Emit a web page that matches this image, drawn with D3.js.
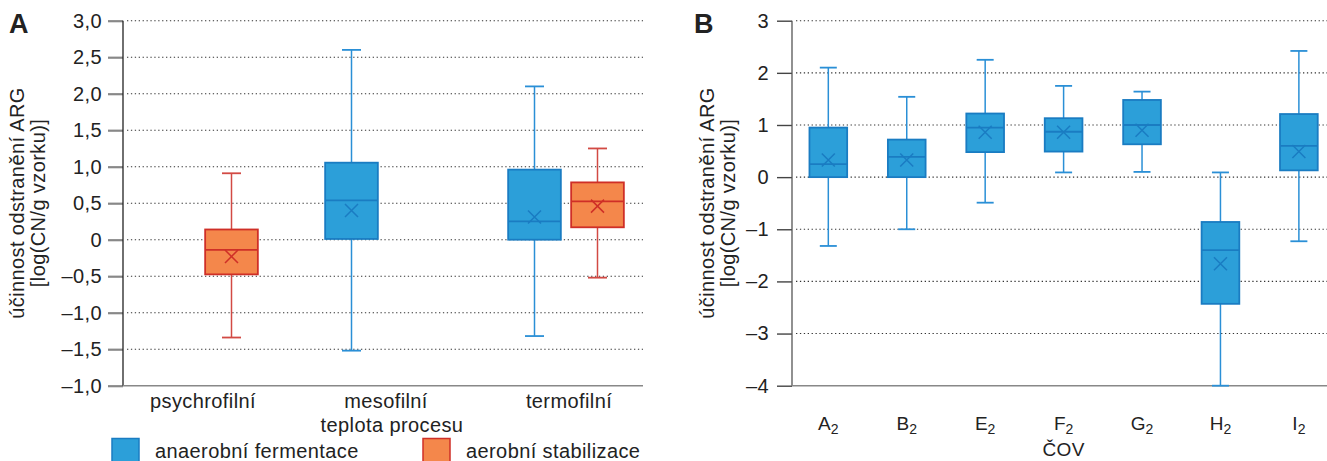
<!DOCTYPE html>
<html>
<head>
<meta charset="utf-8">
<script src="https://cdn.jsdelivr.net/npm/d3@7"></script>
<style>
  body { margin: 0; background: #fff; }
  text { font-family: "Liberation Sans", Arial, sans-serif; fill: #222; }
</style>
</head>
<body>
<div id="chart"></div>
<script>
// panel A: [low whisker, q1, median, q3, high whisker, mean]
var categoriesA = ["psychrofilní", "mesofilní", "termofilní"];
var seriesA = ["anaerobní fermentace", "aerobní stabilizace"];
var anaerobA = [null, [-1.52, 0.01, 0.54, 1.055, 2.60, 0.40], [-1.32, 0.0, 0.25, 0.96, 2.10, 0.31]];
var aerobA = [[-1.34, -0.475, -0.14, 0.14, 0.91, -0.23], null, [-0.52, 0.17, 0.525, 0.785, 1.25, 0.46]];
var yTicksA = [3, 2.5, 2, 1.5, 1, 0.5, 0, -0.5, -1, -1.5, -2];
var yLabelsA = ["3,0", "2,5", "2,0", "1,5", "1,0", "0,5", "0", "–0,5", "–1,0", "–1,5", "–1,0"];

// panel B
var categoriesB = ["A", "B", "E", "F", "G", "H", "I"];
var statsB = [
  [-1.32, 0.0, 0.25, 0.95, 2.10, 0.33],
  [-1.0, 0.0, 0.39, 0.72, 1.54, 0.33],
  [-0.49, 0.48, 0.95, 1.22, 2.25, 0.86],
  [0.09, 0.49, 0.87, 1.13, 1.75, 0.86],
  [0.10, 0.63, 1.0, 1.48, 1.64, 0.90],
  [-4.0, -2.43, -1.40, -0.86, 0.09, -1.66],
  [-1.23, 0.13, 0.60, 1.21, 2.42, 0.49]
];
var yTicksB = [3, 2, 1, 0, -1, -2, -3, -4];
var yLabelsB = ["3", "2", "1", "0", "–1", "–2", "–3", "–4"];

var colors = {
  "anaerobní fermentace": { fill: "#2c9fd9", stroke: "#1a7cc2", whisker: "#2a8fd6" },
  "aerobní stabilizace": { fill: "#f4874b", stroke: "#cf2f27", whisker: "#d24a44" }
};

var width = 1327, height = 461;
var svg = d3.select("#chart").append("svg")
  .attr("width", width)
  .attr("height", height);

var fs = 20, ls = 0.4;

function drawBox(g, cx, s, y, boxW, capW, c) {
  g.append("line")
    .attr("x1", cx).attr("x2", cx)
    .attr("y1", y(s[0])).attr("y2", y(s[4]))
    .attr("stroke", c.whisker).attr("stroke-width", 1.5);
  [s[0], s[4]].forEach(function(v) {
    g.append("line")
      .attr("x1", cx - capW / 2).attr("x2", cx + capW / 2)
      .attr("y1", y(v)).attr("y2", y(v))
      .attr("stroke", c.whisker).attr("stroke-width", 1.8);
  });
  g.append("rect")
    .attr("x", cx - boxW / 2).attr("width", boxW)
    .attr("y", y(s[3])).attr("height", y(s[1]) - y(s[3]))
    .attr("fill", c.fill).attr("stroke", c.stroke).attr("stroke-width", 1.8);
  g.append("line")
    .attr("x1", cx - boxW / 2).attr("x2", cx + boxW / 2)
    .attr("y1", y(s[2])).attr("y2", y(s[2]))
    .attr("stroke", c.stroke).attr("stroke-width", 1.8);
  var m = 6.5, my = y(s[5]);
  g.append("path")
    .attr("d", "M" + (cx - m) + "," + (my - m) + "L" + (cx + m) + "," + (my + m) +
      "M" + (cx + m) + "," + (my - m) + "L" + (cx - m) + "," + (my + m))
    .attr("stroke", c.stroke).attr("stroke-width", 1.5).attr("fill", "none");
}

function yAxisLabel(x, yc) {
  var t = svg.append("text")
    .attr("transform", "translate(" + x + "," + yc + ") rotate(-90)")
    .attr("text-anchor", "middle")
    .attr("font-size", fs).attr("letter-spacing", ls);
  t.append("tspan").attr("x", 0).attr("dy", 0).text("účinnost odstranění ARG");
  t.append("tspan").attr("x", 0).attr("dy", 21).text("[log(CN/g vzorku)]");
}

function grid(left, right, y, ticks) {
  svg.append("g").selectAll("line")
    .data(ticks.slice(0, -1))
    .join("line")
    .attr("x1", left + 4).attr("x2", right)
    .attr("y1", d => y(d)).attr("y2", d => y(d))
    .attr("stroke", "#333").attr("stroke-width", 1.1)
    .attr("stroke-dasharray", "1.3,2.6");
}

// ---------- panel A ----------
var plotTop = 20.7, plotBottom = 385.7;
var leftA = 123, rightA = 643;
var yA = d3.scaleLinear().domain([-2, 3]).range([plotBottom, plotTop]);
var xA = d3.scaleBand().domain(categoriesA).range([108.5, 657.5]);
var xSub = d3.scaleBand().domain(seriesA).range([-63, 63]);

grid(leftA, rightA, yA, yTicksA);

var axA = svg.append("g")
  .attr("transform", "translate(" + leftA + ",0)")
  .call(d3.axisLeft(yA).tickValues(yTicksA).tickSize(15).tickPadding(6)
    .tickFormat((d, i) => yLabelsA[i]));
axA.select(".domain").remove();
axA.selectAll(".tick line").attr("stroke", "#888").attr("stroke-width", 2.2);
axA.selectAll("text").attr("font-size", fs).attr("letter-spacing", ls)
  .attr("font-family", "Liberation Sans, Arial, sans-serif").attr("fill", "#222");
svg.append("line").attr("x1", leftA).attr("x2", leftA).attr("y1", plotTop).attr("y2", plotBottom)
  .attr("stroke", "#222").attr("stroke-width", 1.3);
svg.append("line").attr("x1", leftA).attr("x2", rightA).attr("y1", plotBottom).attr("y2", plotBottom)
  .attr("stroke", "#888").attr("stroke-width", 1.6);

var boxesA = svg.append("g");
[anaerobA, aerobA].forEach(function(arr, si) {
  arr.forEach(function(s, ci) {
    if (!s) return;
    var cx = xA(categoriesA[ci]) + xA.bandwidth() / 2 + xSub(seriesA[si]) + xSub.bandwidth() / 2;
    drawBox(boxesA, cx, s, yA, 52.7, 19, colors[seriesA[si]]);
  });
});

svg.append("g").selectAll("text")
  .data(categoriesA)
  .join("text")
  .attr("x", d => xA(d) + xA.bandwidth() / 2 + 3)
  .attr("y", 408)
  .attr("text-anchor", "middle")
  .attr("font-size", fs).attr("letter-spacing", ls)
  .text(d => d);
svg.append("text").attr("x", 392).attr("y", 432).attr("text-anchor", "middle")
  .attr("font-size", fs).attr("letter-spacing", ls).text("teplota procesu");

// legend
var legX = [112, 423];
seriesA.forEach(function(s, i) {
  svg.append("rect").attr("x", legX[i]).attr("y", 438.5).attr("width", 27).attr("height", 24)
    .attr("fill", colors[s].fill).attr("stroke", colors[s].stroke).attr("stroke-width", 1.5);
  svg.append("text").attr("x", legX[i] + 43).attr("y", 458)
    .attr("font-size", fs).attr("letter-spacing", ls).text(s);
});

svg.append("text").attr("x", 9).attr("y", 33).attr("font-size", 27)
  .attr("font-weight", "bold").attr("font-family", "Liberation Sans, Arial, sans-serif").text("A");
yAxisLabel(24, 203);

// ---------- panel B ----------
var leftB = 792, rightB = 1327;
var yB = d3.scaleLinear().domain([-4, 3]).range([plotBottom, plotTop]);
var xB = d3.scaleBand().domain(categoriesB).range([789.1, 1338.1]);

grid(leftB, rightB, yB, yTicksB);

var axB = svg.append("g")
  .attr("transform", "translate(" + leftB + ",0)")
  .call(d3.axisLeft(yB).tickValues(yTicksB).tickSize(15).tickPadding(8)
    .tickFormat((d, i) => yLabelsB[i]));
axB.select(".domain").remove();
axB.selectAll(".tick line").attr("stroke", "#444").attr("stroke-width", 1.4);
axB.selectAll("text").attr("font-size", fs).attr("letter-spacing", ls)
  .attr("font-family", "Liberation Sans, Arial, sans-serif").attr("fill", "#222");
svg.append("line").attr("x1", leftB).attr("x2", leftB).attr("y1", plotTop).attr("y2", plotBottom)
  .attr("stroke", "#555").attr("stroke-width", 1.3);
svg.append("line").attr("x1", leftB).attr("x2", rightB).attr("y1", plotBottom).attr("y2", plotBottom)
  .attr("stroke", "#888").attr("stroke-width", 1.6);

var boxesB = svg.append("g");
statsB.forEach(function(s, i) {
  drawBox(boxesB, xB(categoriesB[i]) + xB.bandwidth() / 2, s, yB, 37.7, 17,
    colors["anaerobní fermentace"]);
});

var labB = svg.append("g").selectAll("text")
  .data(categoriesB)
  .join("text")
  .attr("x", d => xB(d) + xB.bandwidth() / 2)
  .attr("y", 430)
  .attr("text-anchor", "middle")
  .attr("font-size", 19);
labB.append("tspan").text(d => d);
labB.append("tspan").attr("font-size", 14).attr("dy", 4).text("2");
svg.append("text").attr("x", xB("F") + xB.bandwidth() / 2).attr("y", 456)
  .attr("text-anchor", "middle").attr("font-size", 19).attr("letter-spacing", ls).text("ČOV");

svg.append("text").attr("x", 694).attr("y", 33).attr("font-size", 27)
  .attr("font-weight", "bold").attr("font-family", "Liberation Sans, Arial, sans-serif").text("B");
yAxisLabel(714, 203);
</script>
</body>
</html>
